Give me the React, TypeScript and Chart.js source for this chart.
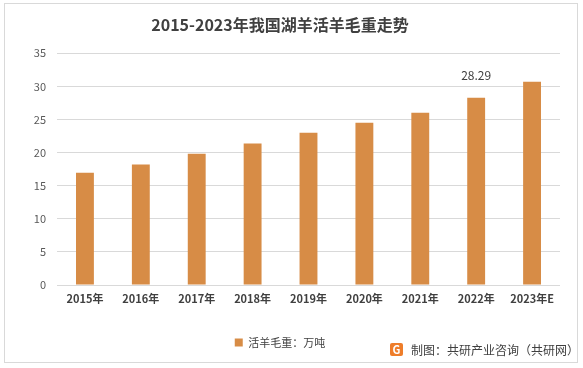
import React, { useEffect, useRef } from "react";
import { Chart, registerables } from "chart.js";

Chart.register(...registerables);

const categories = ["2015年", "2016年", "2017年", "2018年", "2019年", "2020年", "2021年", "2022年", "2023年E"];
const woolWeight = [16.95, 18.2, 19.8, 21.35, 23.0, 24.5, 26.0, 28.29, 30.7];
const labelledIndex = [7];
const seriesName = "活羊毛重：万吨";
const titleText = "2015-2023年我国湖羊活羊毛重走势";
const sourceText = "制图：共研产业咨询（共研网）";

const FONT = "'Noto Sans CJK SC', 'Noto Sans', sans-serif";

export default function App() {
  const ref = useRef<HTMLCanvasElement | null>(null);

  useEffect(() => {
    document.body.style.margin = "0";
    const ctx = ref.current!.getContext("2d")!;
    const valueLabels = {
      id: "valueLabels",
      afterDatasetsDraw(chart: any) {
        const meta = chart.getDatasetMeta(0);
        const c = chart.ctx;
        c.save();
        c.fillStyle = "#404040";
        c.font = `12px ${FONT}`;
        c.textAlign = "center";
        c.textBaseline = "bottom";
        labelledIndex.forEach((i) => {
          const el = meta.data[i];
          c.fillText(woolWeight[i].toFixed(2), el.x, el.y - 16);
        });
        c.restore();
      },
    };
    const chart = new Chart(ctx, {
      type: "bar",
      data: {
        labels: categories,
        datasets: [
          {
            label: seriesName,
            data: woolWeight,
            backgroundColor: "#D78C46",
            barPercentage: 0.64,
            categoryPercentage: 0.5,
          },
        ],
      },
      options: {
        responsive: false,
        animation: false,
        layout: { padding: { top: 5, right: 23, bottom: 10, left: 0 } },
        plugins: {
          title: {
            display: true,
            text: titleText,
            color: "#404040",
            font: { family: FONT, size: 16, weight: "bold" },
            padding: { top: 10, bottom: 19 },
          },
          legend: {
            position: "bottom",
            labels: {
              boxWidth: 8,
              boxHeight: 8,
              color: "#404040",
              font: { family: FONT, size: 11 },
              padding: 10,
            },
          },
          tooltip: { enabled: false },
        },
        scales: {
          x: {
            grid: { display: false, drawTicks: false },
            border: { display: false },
            ticks: {
              color: "#404040",
              font: { family: FONT, size: 11, weight: "bold" },
              padding: 7,
              maxRotation: 0,
            },
            afterFit(scale: any) {
              scale.height = 42;
            },
          },
          y: {
            min: 0,
            max: 35,
            ticks: {
              stepSize: 5,
              color: "#595959",
              font: { family: FONT, size: 11 },
              padding: 11,
            },
            grid: { color: "#d9d9d9", drawTicks: false },
            border: { display: false },
            afterFit(scale: any) {
              scale.width = 57;
            },
          },
        },
      },
      plugins: [valueLabels],
    });
    return () => chart.destroy();
  }, []);

  return (
    <div style={{ position: "absolute", left: 0, top: 0, width: 583, height: 368, background: "#fff" }}>
      <canvas ref={ref} width={583} height={368} style={{ position: "absolute", left: 0, top: 0 }} />
      <div
        style={{
          position: "absolute",
          left: 4,
          top: 3,
          width: 574,
          height: 360,
          border: "1px solid #d9d9d9",
          boxSizing: "border-box",
          pointerEvents: "none",
        }}
      />
      <div
        style={{
          position: "absolute",
          left: 390,
          top: 341,
          display: "flex",
          alignItems: "center",
          fontFamily: FONT,
          fontSize: 12,
          color: "#404040",
          whiteSpace: "nowrap",
        }}
      >
        <span
          style={{
            display: "inline-block",
            width: 13,
            height: 13,
            background: "#EE7D2A",
            color: "#fff",
            fontSize: 11,
            fontWeight: "bold",
            lineHeight: "13px",
            textAlign: "center",
            marginRight: 8,
            borderRadius: 2,
          }}
        >
          G
        </span>
        {sourceText}
      </div>
    </div>
  );
}
